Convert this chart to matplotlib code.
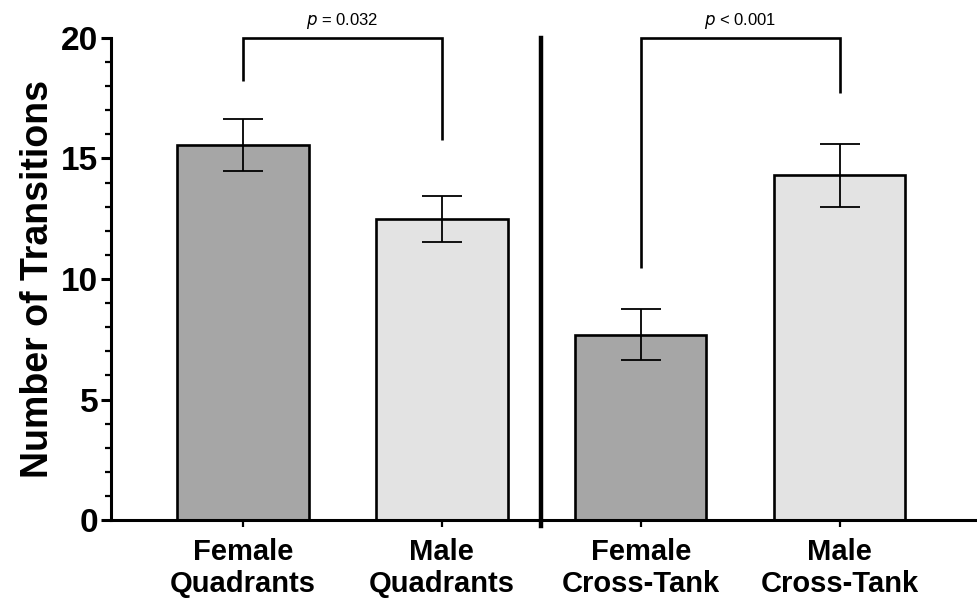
import matplotlib
matplotlib.use("Agg")
import matplotlib.pyplot as plt
from matplotlib.ticker import MultipleLocator

categories = ["Female\nQuadrants", "Male\nQuadrants", "Female\nCross-Tank", "Male\nCross-Tank"]
means = [15.55, 12.48, 7.68, 14.3]
sems = [1.07, 0.95, 1.06, 1.32]
colors = ["#a6a6a6", "#e3e3e3", "#a6a6a6", "#e3e3e3"]
yticks = [0, 5, 10, 15, 20]
comparisons = [(0, 1, "p = 0.032", 20.0, 18.2, 15.75),
               (2, 3, "p < 0.001", 20.0, 10.45, 17.7)]

plt.rcParams['font.family'] = ['Liberation Sans', 'DejaVu Sans']

fig = plt.figure(figsize=(9.77, 6.0), dpi=100)
ax = fig.add_axes([0.1136, 0.1333, 0.884, 0.8034])

x = list(range(len(categories)))
ax.bar(x, means, width=0.66, color=colors, edgecolor="black", linewidth=1.9, zorder=2)
ax.errorbar(x, means, yerr=sems, fmt="none", ecolor="black", elinewidth=1.3,
            capsize=14.5, capthick=1.3, zorder=3)

ax.set_xlim(-0.663, 3.678)
ax.set_ylim(0, 20)
ax.set_yticks(yticks)
ax.yaxis.set_minor_locator(MultipleLocator(1))
ax.set_xticks(x)
ax.set_xticklabels(categories, fontsize=21, fontweight="bold", linespacing=1.2)
ax.set_yticklabels([str(v) for v in yticks], fontsize=24, fontweight="bold")
ax.set_ylabel("Number of Transitions", fontsize=27, fontweight="bold", labelpad=4)

for s in ["top", "right"]:
    ax.spines[s].set_visible(False)
for s in ["left", "bottom"]:
    ax.spines[s].set_linewidth(2.2)
ax.tick_params(axis="y", which="major", length=7, width=2.2, pad=2)
ax.tick_params(axis="y", which="minor", length=4, width=1.6)
ax.tick_params(axis="x", which="major", length=5, width=1.6, pad=8)

ax.axvline(1.5, ymin=-0.012, ymax=1.0, color="black", linewidth=3.2, clip_on=False, zorder=4)

for i, j, label, top, yl, yr in comparisons:
    ax.plot([i, i, j, j], [yl, top, top, yr], color="black", linewidth=1.9,
            clip_on=False, solid_capstyle="butt", solid_joinstyle="miter", zorder=4)
    parts = label.split(" ", 1)
    ax.text((i + j) / 2, top + 0.3, r"$\it{p}$" + " " + parts[1], ha="center",
            va="bottom", fontsize=12, clip_on=False)

fig.savefig("out.png", dpi=100)
